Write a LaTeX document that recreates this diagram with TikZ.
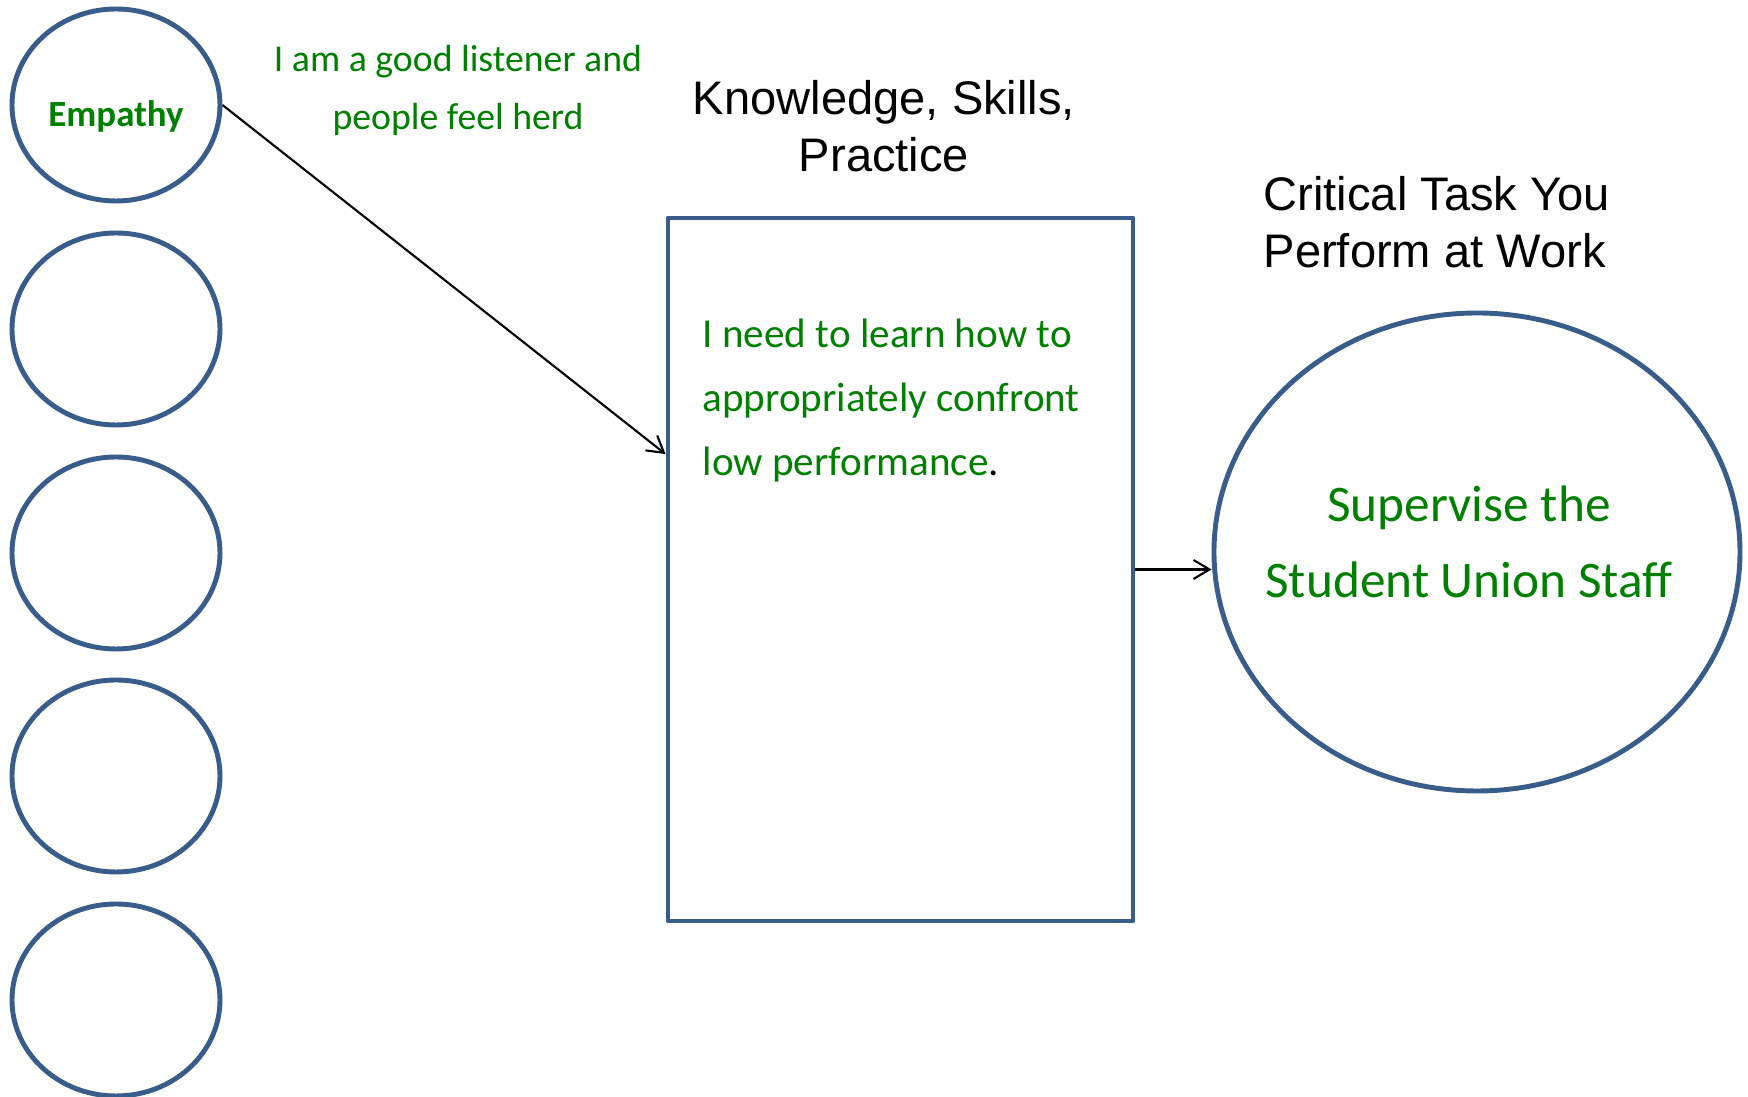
\documentclass[tikz,border=0pt]{standalone}
\usepackage{fontspec}
\setmainfont{Liberation Sans}
\newfontfamily\handfont{Carlito}
\usetikzlibrary{shapes.geometric,calc,arrows.meta}
\definecolor{shapeblue}{HTML}{385D8A}
\definecolor{handgreen}{HTML}{008000}

\begin{document}
\begin{tikzpicture}[
  quality/.style={draw=shapeblue,line width=1.4pt,ellipse,inner sep=0pt,minimum width=2.08cm,minimum height=1.92cm},
  hand/.style={text=handgreen,font=\handfont},
  title/.style={font=\fontsize{13.4}{16.2}\selectfont,inner sep=0pt},
  link/.style={-{Straight Barb[length=1.6mm,width=1.9mm]},line width=0.6pt}]
\useasboundingbox (0,0) rectangle (17.48,10.97);
\node[quality] (q1) at (1.16,9.92) {};
\node[quality] (q2) at (1.16,7.68) {};
\node[quality] (q3) at (1.16,5.44) {};
\node[quality] (q4) at (1.16,3.21) {};
\node[quality] (q5) at (1.16,0.97) {};
\node[hand,font=\handfont\bfseries\fontsize{10.5}{12}\selectfont] (emp) at ([yshift=-1.1mm]q1) {Empathy};
\node[hand,font=\handfont\fontsize{10.75}{16.5}\selectfont,align=center] (listen) at (4.58,10.07) {I am a good listener and\\people feel herd};
\node[title,align=center] (ksp) at (8.84,9.705) {Knowledge, Skills,\\Practice};
\node[draw=shapeblue,line width=1.4pt,line join=round,minimum width=4.65cm,minimum height=7.03cm] (box) at (9.005,5.275) {};
\node[hand,font=\handfont\fontsize{11.7}{18.2}\selectfont,align=left,anchor=west,inner sep=0pt] (need) at (7.02,6.96) {I need to learn how to\\appropriately confront\\low performance\textcolor{black}{.}};
\node[title,align=left,anchor=west] (crit) at (12.63,8.75) {Critical Task You\\Perform at Work};
\node[draw=shapeblue,line width=1.4pt,ellipse,minimum width=5.26cm,minimum height=4.78cm] (task) at (14.77,5.45) {};
\node[hand,font=\handfont\fontsize{14.6}{21.6}\selectfont,align=center] (sup) at (14.69,5.55) {Supervise the\\Student Union Staff};
\coordinate (kin) at ($(box.north west)!0.337!(box.south west)$);
\draw[link] (q1.east) -- (kin);
\draw[link] (box.east) -- (box.east -| task.west);
\end{tikzpicture}
\end{document}
